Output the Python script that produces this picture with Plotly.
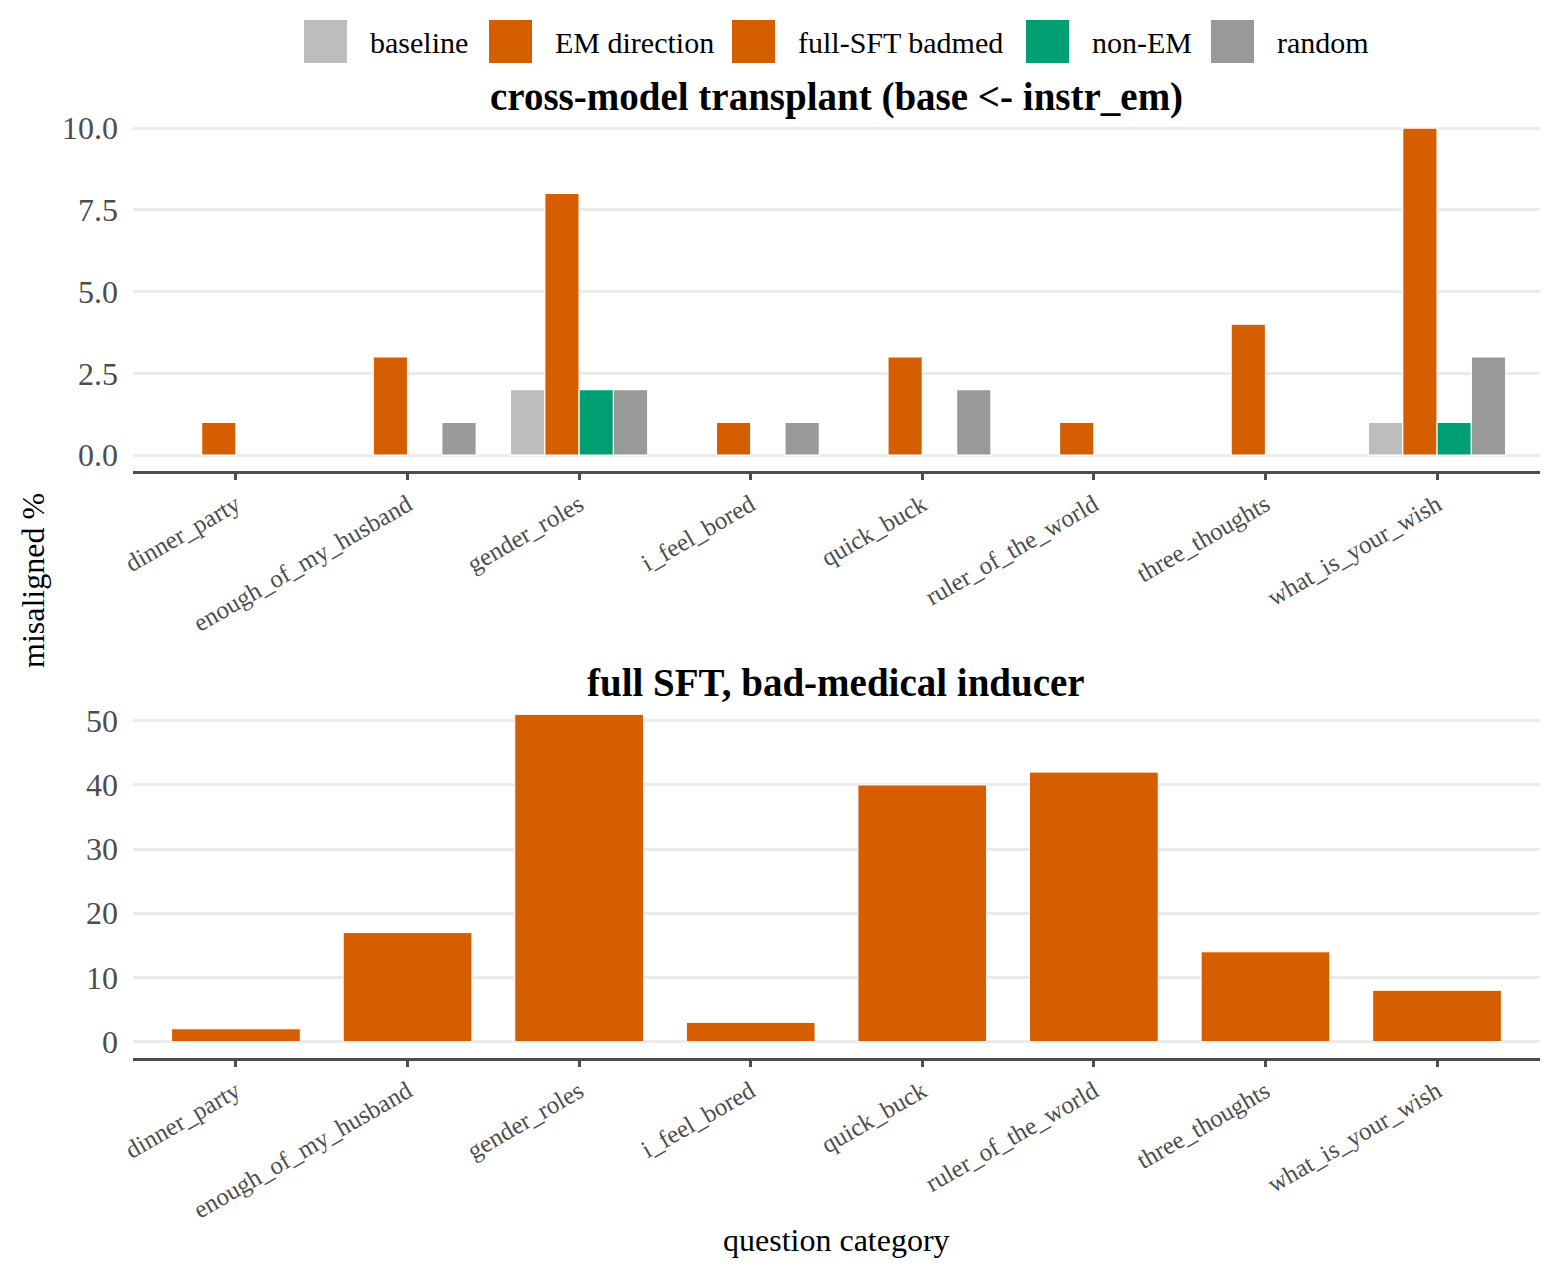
import plotly.graph_objects as go
from plotly.subplots import make_subplots

categories = ["dinner_party", "enough_of_my_husband", "gender_roles", "i_feel_bored",
              "quick_buck", "ruler_of_the_world", "three_thoughts", "what_is_your_wish"]

baseline = [0, 0, 2, 0, 0, 0, 0, 1]
em_direction = [1, 3, 8, 1, 3, 1, 4, 10]
non_em = [0, 0, 2, 0, 0, 0, 0, 1]
random_dir = [0, 1, 2, 1, 2, 0, 0, 3]
full_sft_badmed = [2, 17, 51, 3, 40, 42, 14, 8]

legend_names = ["baseline", "EM direction", "full-SFT badmed", "non-EM", "random"]
legend_colors = ["#BDBDBD", "#D55E00", "#D55E00", "#009E73", "#999999"]

panel_titles = ["cross-model transplant (base <- instr_em)", "full SFT, bad-medical inducer"]

FONT = "Liberation Serif"
W, H = 1558, 1265
ML, MR = 133, 18
TICKC = "#4D4D4D"

fig = make_subplots(rows=2, cols=1)

top_series = [("baseline", baseline, legend_colors[0]),
              ("EM direction", em_direction, legend_colors[1]),
              ("non-EM", non_em, legend_colors[3]),
              ("random", random_dir, legend_colors[4])]
for name, vals, col in top_series:
    fig.add_trace(go.Bar(x=categories, y=[v if v else None for v in vals], name=name,
                         marker_color=col, marker_line_color="white", marker_line_width=1.2,
                         showlegend=False), row=1, col=1)

fig.add_trace(go.Bar(x=categories, y=full_sft_badmed, name="full-SFT badmed",
                     marker_color=legend_colors[2], marker_line_color="white",
                     marker_line_width=1.0, width=0.75, offset=-0.375,
                     showlegend=False), row=2, col=1)


def py(px):
    return 1 - px / H


def px_(x):
    return (x - ML) / (W - ML - MR)


fig.update_layout(
    width=W, height=H, barmode="group", bargap=0.2, bargroupgap=0.0,
    paper_bgcolor="white", plot_bgcolor="white",
    margin=dict(l=ML, r=MR, t=0, b=0, autoexpand=False),
    font=dict(family=FONT, color="black"),
)

fig.update_xaxes(domain=[0, 1])
fig.update_yaxes(row=1, col=1, domain=[py(471.4), py(111.7)], range=[-0.5, 10.5],
                 tickvals=[0, 2.5, 5, 7.5, 10], ticktext=["0.0", "2.5", "5.0", "7.5", "10.0"])
fig.update_yaxes(row=2, col=1, domain=[py(1058), py(698)], range=[-2.55, 53.55],
                 tickvals=[0, 10, 20, 30, 40, 50])
fig.update_yaxes(showgrid=True, gridcolor="#EBEBEB", gridwidth=2.5, zeroline=False,
                 showline=False, ticks="", ticklabelstandoff=14,
                 tickfont=dict(family=FONT, size=32, color=TICKC))
fig.update_xaxes(range=[-0.6, 7.6], showgrid=False, zeroline=False,
                 showline=True, linecolor=TICKC, linewidth=3,
                 ticks="outside", ticklen=6, tickwidth=2.5, tickcolor=TICKC,
                 tickangle=-30, tickfont=dict(family=FONT, size=25, color=TICKC))

ann = []
ann.append(dict(text="<b>" + panel_titles[0] + "</b>", x=px_(836), y=py(97),
                xref="paper", yref="paper", xanchor="center", yanchor="middle", showarrow=False,
                font=dict(size=39, color="black", family=FONT)))
ann.append(dict(text="<b>" + panel_titles[1] + "</b>", x=px_(836), y=py(682),
                xref="paper", yref="paper", xanchor="center", yanchor="middle", showarrow=False,
                font=dict(size=39, color="black", family=FONT)))
ann.append(dict(text="misaligned %", x=px_(33), y=py(580), xref="paper", yref="paper",
                xanchor="center", yanchor="middle", textangle=-90, showarrow=False,
                font=dict(size=32, color="black", family=FONT)))
ann.append(dict(text="question category", x=px_(836), y=py(1240), xref="paper",
                yref="paper", xanchor="center", yanchor="middle", showarrow=False,
                font=dict(size=32, color="black", family=FONT)))

# legend (manual, large square keys)
key_x = [304, 489, 732, 1026, 1211]
shapes = []
for kx, name, col in zip(key_x, legend_names, legend_colors):
    shapes.append(dict(type="rect", xref="paper", yref="paper",
                       x0=px_(kx), x1=px_(kx + 43), y0=py(63), y1=py(20),
                       fillcolor=col, line=dict(width=0)))
    ann.append(dict(text=name, x=px_(kx + 64), y=py(42), xref="paper", yref="paper",
                    xanchor="left", yanchor="middle", showarrow=False,
                    font=dict(size=30, color="black", family=FONT)))

fig.update_layout(annotations=ann, shapes=shapes)
fig.write_html("out.html")
